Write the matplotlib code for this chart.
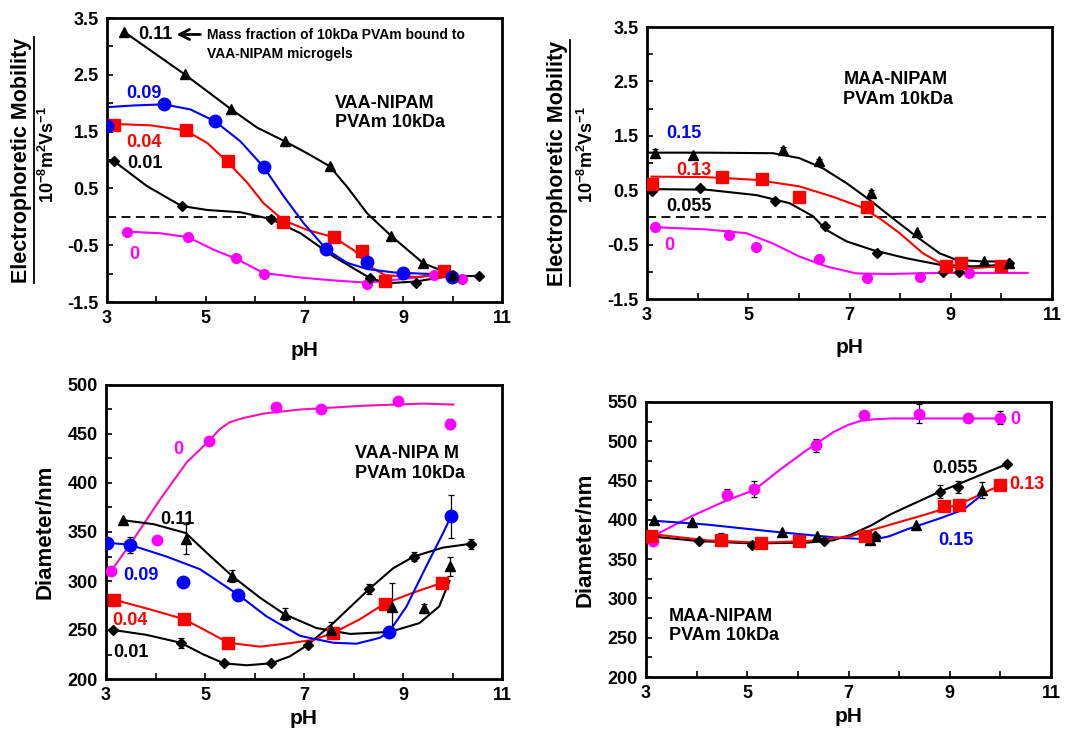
import numpy as np
import matplotlib
matplotlib.use('Agg')
import matplotlib.pyplot as plt
from matplotlib.lines import Line2D

plt.rcParams['font.family'] = ['Liberation Sans', 'DejaVu Sans']
plt.rcParams['font.weight'] = 'bold'
plt.rcParams['mathtext.fontset'] = 'custom'
plt.rcParams['mathtext.rm'] = 'Liberation Sans:bold'
plt.rcParams['mathtext.bf'] = 'Liberation Sans:bold'
plt.rcParams['mathtext.it'] = 'Liberation Sans:bold'

BLACK = '#000000'
BLUE = '#0000ff'
RED = '#ff0000'
MAG = '#ff00ff'

# ---- panel A: VAA-NIPAM mobility ----
a_011_x = [3.34, 4.57, 5.52, 6.60, 7.51, 8.76, 9.41, 10.0]
a_011_y = [3.26, 2.51, 1.89, 1.33, 0.89, -0.34, -0.82, -1.02]
a_011_cx = [3.34, 4.57, 5.52, 6.04, 6.60, 7.05, 7.51, 7.86, 8.27, 8.76, 9.41, 10.02]
a_011_cy = [3.26, 2.51, 1.89, 1.57, 1.33, 1.12, 0.89, 0.53, 0.06, -0.34, -0.82, -1.03]

a_009_x = [3.00, 4.15, 5.19, 6.17, 7.44, 8.27, 9.00, 9.99]
a_009_y = [1.60, 1.98, 1.68, 0.88, -0.57, -0.80, -0.99, -1.06]
a_009_cx = [3.0, 3.54, 4.15, 4.69, 5.19, 5.70, 6.17, 6.58, 6.98, 7.44, 7.86, 8.27, 8.81, 9.35, 9.99]
a_009_cy = [1.93, 1.96, 1.98, 1.89, 1.68, 1.33, 0.88, 0.36, -0.11, -0.57, -0.81, -0.92, -0.98, -1.0, -1.02]

a_004_x = [3.14, 4.59, 5.46, 6.57, 7.59, 8.16, 8.64, 9.82]
a_004_y = [1.62, 1.52, 0.98, -0.10, -0.36, -0.60, -1.13, -0.95]
a_004_cx = [3.0, 3.88, 4.59, 5.03, 5.46, 5.84, 6.17, 6.57, 7.05, 7.59, 8.0, 8.33, 8.64, 9.28, 9.82]
a_004_cy = [1.64, 1.61, 1.52, 1.30, 0.95, 0.60, 0.24, -0.06, -0.23, -0.36, -0.59, -0.88, -1.03, -1.06, -1.0]

a_001_x = [3.14, 4.51, 6.32, 8.33, 9.25, 10.53]
a_001_y = [0.98, 0.19, -0.04, -1.08, -1.16, -1.05]
a_001_cx = [3.14, 3.81, 4.51, 5.03, 5.70, 6.32, 6.92, 7.59, 8.33, 8.67, 9.25, 9.89, 10.53]
a_001_cy = [0.98, 0.54, 0.19, 0.12, 0.08, -0.04, -0.29, -0.70, -1.08, -1.17, -1.14, -1.05, -1.04]

a_0_x = [3.41, 4.65, 5.62, 6.17, 8.27, 9.62, 10.18]
a_0_y = [-0.26, -0.36, -0.73, -1.00, -1.19, -1.03, -1.10]
a_0_cx = [3.41, 4.08, 4.65, 5.16, 5.62, 6.17, 6.92, 7.59, 8.27, 8.94, 9.62, 10.18]
a_0_cy = [-0.26, -0.29, -0.36, -0.58, -0.74, -0.99, -1.07, -1.12, -1.16, -1.10, -1.03, -1.10]

# ---- panel B: MAA-NIPAM mobility ----
b_015_x = [3.15, 3.90, 5.69, 6.40, 7.42, 8.34, 9.66, 10.15]
b_015_y = [1.18, 1.15, 1.24, 1.03, 0.44, -0.27, -0.81, -0.83]
b_015_e = [0.07, 0, 0.06, 0.05, 0.06, 0, 0, 0]
b_015_cx = [3.0, 4.17, 5.49, 6.01, 6.48, 6.94, 7.40, 7.86, 8.32, 8.78, 9.11, 9.63, 10.15]
b_015_cy = [1.19, 1.19, 1.18, 1.09, 0.90, 0.63, 0.32, -0.02, -0.35, -0.66, -0.78, -0.81, -0.81]

b_013_x = [3.09, 4.49, 5.28, 6.01, 7.34, 8.90, 9.21, 10.0]
b_013_y = [0.61, 0.75, 0.70, 0.38, 0.20, -0.90, -0.84, -0.90]
b_013_e = [0, 0, 0, 0.07, 0, 0.05, 0, 0]
b_013_cx = [3.09, 4.17, 5.16, 6.01, 6.67, 7.20, 7.60, 7.99, 8.45, 8.91, 9.31, 10.0]
b_013_cy = [0.75, 0.74, 0.69, 0.57, 0.38, 0.20, -0.02, -0.29, -0.66, -0.90, -0.94, -0.90]

b_0055_x = [3.09, 4.04, 5.52, 6.51, 7.55, 8.85, 9.16, 10.16]
b_0055_y = [0.49, 0.54, 0.30, -0.15, -0.66, -1.00, -1.00, -0.83]
b_0055_cx = [3.09, 4.17, 5.16, 5.82, 6.28, 6.54, 6.94, 7.46, 8.12, 8.78, 9.44, 10.10]
b_0055_cy = [0.52, 0.51, 0.41, 0.26, 0.02, -0.23, -0.44, -0.60, -0.75, -0.87, -0.90, -0.87]

b_0_x = [3.15, 4.62, 5.15, 6.40, 7.34, 8.40, 9.37, 10.0]
b_0_y = [-0.17, -0.32, -0.54, -0.77, -1.12, -1.09, -1.03, -0.90]
b_0_e = [0.05, 0.07, 0, 0, 0, 0, 0, 0]
b_0_cx = [3.15, 4.17, 4.96, 5.49, 6.01, 6.54, 7.13, 7.79, 8.78, 9.76, 10.52]
b_0_cy = [-0.18, -0.22, -0.29, -0.48, -0.72, -0.90, -1.03, -1.04, -1.02, -1.02, -1.02]

# ---- panel C: VAA-NIPAM diameter ----
c_011_x = [3.35, 4.61, 5.55, 6.61, 7.55, 8.77, 9.42, 9.94]
c_011_y = [362, 343, 305, 266, 250, 273, 272, 315]
c_011_e = [0, 15, 6, 6, 8, 25, 5, 10]
c_011_cx = [3.35, 3.96, 4.61, 5.03, 5.55, 6.11, 6.61, 7.25, 7.93, 8.73, 9.33, 9.73, 9.94]
c_011_cy = [362, 358, 349, 329, 305, 283, 266, 252, 246, 248, 257, 274, 300]

c_009_x = [3.03, 3.48, 4.55, 5.67, 8.72, 9.97]
c_009_y = [339, 337, 299, 286, 248, 366]
c_009_e = [0, 8, 0, 0, 0, 22]
c_009_cx = [3.03, 3.48, 4.22, 4.90, 5.67, 6.24, 6.92, 7.59, 8.06, 8.53, 8.72, 9.07, 9.47, 9.81, 9.97]
c_009_cy = [339, 337, 325, 312, 286, 264, 244, 237, 236, 242, 248, 274, 315, 349, 366]

c_004_x = [3.16, 4.58, 5.47, 7.59, 8.63, 9.78]
c_004_y = [281, 261, 237, 247, 277, 298]
c_004_cx = [3.16, 3.89, 4.58, 5.03, 5.47, 6.11, 6.78, 7.19, 7.59, 8.13, 8.63, 9.20, 9.78]
c_004_cy = [281, 271, 261, 249, 237, 233, 237, 240, 247, 261, 277, 288, 298]

c_001_x = [3.15, 4.51, 5.38, 6.33, 7.08, 8.32, 9.22, 10.37]
c_001_y = [250, 237, 216, 216, 235, 292, 325, 338]
c_001_e = [0, 5, 0, 0, 0, 5, 5, 5]
c_001_cx = [3.15, 3.82, 4.51, 4.97, 5.38, 5.84, 6.33, 6.71, 7.08, 7.59, 8.32, 8.80, 9.22, 9.80, 10.37]
c_001_cy = [250, 245, 237, 225, 216, 214, 216, 223, 235, 257, 292, 313, 325, 334, 338]

c_0_x = [3.10, 4.04, 5.08, 6.43, 7.34, 8.90, 9.95]
c_0_y = [310, 342, 443, 478, 475, 484, 460]
c_0_e = [0, 0, 0, 0, 0, 0, 5]
c_0_cx = [3.10, 3.55, 4.09, 4.63, 5.08, 5.30, 5.50, 5.75, 6.20, 6.92, 8.26, 9.41, 10.02]
c_0_cy = [310, 342, 383, 421, 443, 455, 462, 466, 471, 475, 479, 481, 480]

# ---- panel D: MAA-NIPAM diameter ----
d_0_x = [3.13, 4.60, 5.14, 6.36, 7.30, 8.39, 9.36, 10.0]
d_0_y = [373, 432, 439, 495, 534, 535, 530, 530]
d_0_e = [0, 7, 10, 8, 0, 12, 5, 8]
d_0_cx = [3.13, 3.88, 4.60, 5.14, 5.65, 6.18, 6.71, 7.00, 7.24, 7.50, 7.83, 8.81, 10.0]
d_0_cy = [379, 404, 425, 438, 464, 489, 512, 521, 526, 528, 529, 529, 529]

d_0055_x = [3.13, 4.04, 5.09, 6.51, 7.52, 8.81, 9.16, 10.13]
d_0055_y = [380, 373, 368, 373, 379, 436, 442, 471]
d_0055_e = [0, 0, 0, 0, 0, 8, 8, 0]
d_0055_cx = [3.09, 4.04, 5.09, 6.18, 6.70, 7.04, 7.45, 7.83, 8.30, 8.81, 10.13]
d_0055_cy = [379, 373, 370, 371, 374, 381, 393, 407, 421, 436, 471]

d_013_x = [3.09, 4.49, 5.27, 6.02, 7.33, 8.89, 9.19, 10.0]
d_013_y = [380, 375, 371, 373, 380, 418, 419, 444]
d_013_e = [0, 8, 0, 0, 0, 0, 0, 0]
d_013_cx = [3.09, 4.20, 5.27, 6.18, 7.04, 7.83, 8.48, 9.19, 10.0]
d_013_cy = [382, 374, 371, 373, 379, 394, 406, 420, 444]

d_015_x = [3.15, 3.91, 5.69, 6.37, 7.43, 7.53, 8.34, 9.64]
d_015_y = [400, 397, 385, 380, 375, 380, 393, 438]
d_015_e = [0, 0, 0, 0, 0, 0, 0, 10]
d_015_cx = [3.13, 4.20, 5.52, 6.84, 7.50, 7.80, 8.16, 8.81, 9.27, 9.64]
d_015_cy = [399, 394, 385, 377, 375, 379, 388, 402, 413, 432]

W, H = 1065, 731
fig = plt.figure(figsize=(W / 100, H / 100), dpi=100)


def px_axes(l, t, r, b):
    return fig.add_axes([l / W, 1 - b / H, (r - l) / W, (b - t) / H])


def series(ax, x, y, cx, cy, color, marker, ms, err=None, lc=None):
    ax.plot(cx, cy, '-', color=lc or color, lw=1.5, zorder=2)
    if err is not None:
        e = np.array(err, dtype=float)
        m = e > 0
        ax.errorbar(np.array(x)[m], np.array(y)[m], yerr=e[m], fmt='none',
                    ecolor='black', elinewidth=0.9, capsize=2.5, capthick=0.9, zorder=3)
    ax.plot(x, y, linestyle='none', marker=marker, color=color, ms=ms,
            mec=color, zorder=4)


def label(ax, x, y, s, color, **kw):
    ax.text(x, y, s, color=color, fontsize=13, fontweight='bold', va='center', **kw)


def style(ax, ylim, ystep, tick_fs):
    ax.set_xlim(3, 11)
    ax.set_ylim(*ylim)
    ax.set_xticks([3, 5, 7, 9, 11])
    ax.set_xticks([4, 6, 8, 10], minor=True)
    ax.set_yticks(np.arange(ylim[0], ylim[1] + 1e-9, ystep))
    ax.set_yticks(np.arange(ylim[0] + ystep / 2, ylim[1], ystep), minor=True)
    ax.tick_params(which='both', direction='in', length=4, width=1.2,
                   labelsize=tick_fs, pad=6)
    for s in ax.spines.values():
        s.set_linewidth(2.0)
    for lab in ax.get_xticklabels() + ax.get_yticklabels():
        lab.set_fontweight('bold')


# ---------- A ----------
ax = px_axes(107, 18, 502, 302)
style(ax, (-1.5, 3.5), 1.0, 13)
ax.set_yticklabels(['-1.5', '-0.5', '0.5', '1.5', '2.5', '3.5'])
ax.axhline(0, color='black', ls=(0, (5, 3)), lw=1.3, zorder=1)
series(ax, a_0_x, a_0_y, a_0_cx, a_0_cy, MAG, 'o', 7)
series(ax, a_001_x, a_001_y, a_001_cx, a_001_cy, BLACK, 'D', 5.5)
series(ax, a_004_x, a_004_y, a_004_cx, a_004_cy, RED, 's', 8.5)
series(ax, a_009_x, a_009_y, a_009_cx, a_009_cy, BLUE, 'o', 9)
series(ax, a_011_x, a_011_y, a_011_cx, a_011_cy, BLACK, '^', 7.5)
label(ax, 3.64, 3.21, '0.11', BLACK)
ax.annotate('', xy=(4.35, 3.21), xytext=(4.95, 3.21),
            arrowprops=dict(arrowstyle='->', lw=2, color='black', mutation_scale=18))
ax.text(5.03, 3.32, 'Mass fraction of 10kDa PVAm bound to\nVAA-NIPAM microgels',
        fontsize=10, fontweight='bold', va='top', linespacing=1.45)
label(ax, 3.39, 2.17, '0.09', BLUE)
label(ax, 3.39, 1.30, '0.04', RED)
label(ax, 3.40, 0.94, '0.01', BLACK)
label(ax, 3.46, -0.67, '0', MAG)
ax.text(7.62, 1.83, 'VAA-NIPAM\nPVAm 10kDa', fontsize=13, fontweight='bold',
        va='center', linespacing=1.2)
ax.set_xlabel('pH', fontsize=15, fontweight='bold', labelpad=10)

# ---------- B ----------
ax = px_axes(647, 27, 1052, 299)
style(ax, (-1.5, 3.5), 1.0, 13)
ax.set_yticklabels(['-1.5', '-0.5', '0.5', '1.5', '2.5', '3.5'])
ax.axhline(0, color='black', ls=(0, (5, 3)), lw=1.3, zorder=1)
series(ax, b_0_x, b_0_y, b_0_cx, b_0_cy, MAG, 'o', 7, err=b_0_e)
series(ax, b_0055_x, b_0055_y, b_0055_cx, b_0055_cy, BLACK, 'D', 5.5)
series(ax, b_013_x, b_013_y, b_013_cx, b_013_cy, RED, 's', 8.5, err=b_013_e)
series(ax, b_015_x, b_015_y, b_015_cx, b_015_cy, BLACK, '^', 7.5, err=b_015_e)
label(ax, 3.38, 1.55, '0.15', BLUE)
label(ax, 3.57, 0.86, '0.13', RED)
label(ax, 3.38, 0.20, '0.055', BLACK)
label(ax, 3.35, -0.52, '0', MAG)
ax.text(6.88, 2.35, 'MAA-NIPAM\nPVAm 10kDa', fontsize=13, fontweight='bold',
        va='center', linespacing=1.2)
ax.set_xlabel('pH', fontsize=15, fontweight='bold', labelpad=10)

# ---------- C ----------
ax = px_axes(106, 385, 502, 679)
style(ax, (200, 500), 50, 13)
series(ax, c_0_x, c_0_y, c_0_cx, c_0_cy, MAG, 'o', 7.5, err=c_0_e, lc='#ff10b0')
series(ax, c_001_x, c_001_y, c_001_cx, c_001_cy, BLACK, 'D', 5.5, err=c_001_e)
series(ax, c_004_x, c_004_y, c_004_cx, c_004_cy, RED, 's', 8.5)
series(ax, c_009_x, c_009_y, c_009_cx, c_009_cy, BLUE, 'o', 9, err=c_009_e)
series(ax, c_011_x, c_011_y, c_011_cx, c_011_cy, BLACK, '^', 7.5, err=c_011_e)
label(ax, 4.35, 434, '0', MAG)
label(ax, 4.10, 363, '0.11', BLACK)
label(ax, 3.35, 306, '0.09', BLUE)
label(ax, 3.13, 260, '0.04', RED)
label(ax, 3.15, 227, '0.01', BLACK)
ax.text(8.03, 420, 'VAA-NIPA M\nPVAm 10kDa', fontsize=13, fontweight='bold',
        va='center', linespacing=1.2)
ax.set_xlabel('pH', fontsize=15, fontweight='bold', labelpad=3)

# ---------- D ----------
ax = px_axes(646, 402, 1051, 677)
style(ax, (200, 550), 50, 13)
series(ax, d_0_x, d_0_y, d_0_cx, d_0_cy, MAG, 'o', 7.5, err=d_0_e)
series(ax, d_015_x, d_015_y, d_015_cx, d_015_cy, BLACK, '^', 7.5, err=d_015_e, lc=BLUE)
series(ax, d_0055_x, d_0055_y, d_0055_cx, d_0055_cy, BLACK, 'D', 5.5, err=d_0055_e)
series(ax, d_013_x, d_013_y, d_013_cx, d_013_cy, RED, 's', 8.5, err=d_013_e)
label(ax, 10.2, 528, '0', MAG)
label(ax, 8.65, 465, '0.055', BLACK)
label(ax, 10.18, 445, '0.13', RED)
label(ax, 8.78, 374, '0.15', BLUE)
ax.text(3.45, 265, 'MAA-NIPAM\nPVAm 10kDa', fontsize=13, fontweight='bold',
        va='center', linespacing=1.2)
ax.set_xlabel('pH', fontsize=15, fontweight='bold', labelpad=3)

# ---------- y labels ----------
mob_labels = []
for x1, x2, yc in [(22, 48, 160), (558, 587, 163)]:
    t = fig.text(x1 / W, 1 - yc / H, 'Electrophoretic Mobility', rotation=90,
                 fontsize=15.5, fontweight='bold', ha='center', va='center')
    fig.text(x2 / W, 1 - 155 / H, r'$\mathbf{10^{-8}m^{2}Vs^{-1}}$', rotation=90,
             fontsize=13, ha='center', va='center')
    mob_labels.append(t)
fig.text(45 / W, 1 - 532 / H, 'Diameter/nm', rotation=90, fontsize=16,
         fontweight='bold', ha='center', va='center')
fig.text(585 / W, 1 - 540 / H, 'Diameter/nm', rotation=90, fontsize=16,
         fontweight='bold', ha='center', va='center')

# underline of the rotated mobility labels
fig.canvas.draw()
for t in mob_labels:
    bb = t.get_window_extent()
    xl = (bb.x1 + 1.0) / W
    fig.add_artist(Line2D([xl, xl], [bb.y0 / H, bb.y1 / H], color='black', lw=1.3,
                          transform=fig.transFigure))

fig.savefig('out.png', dpi=100)
